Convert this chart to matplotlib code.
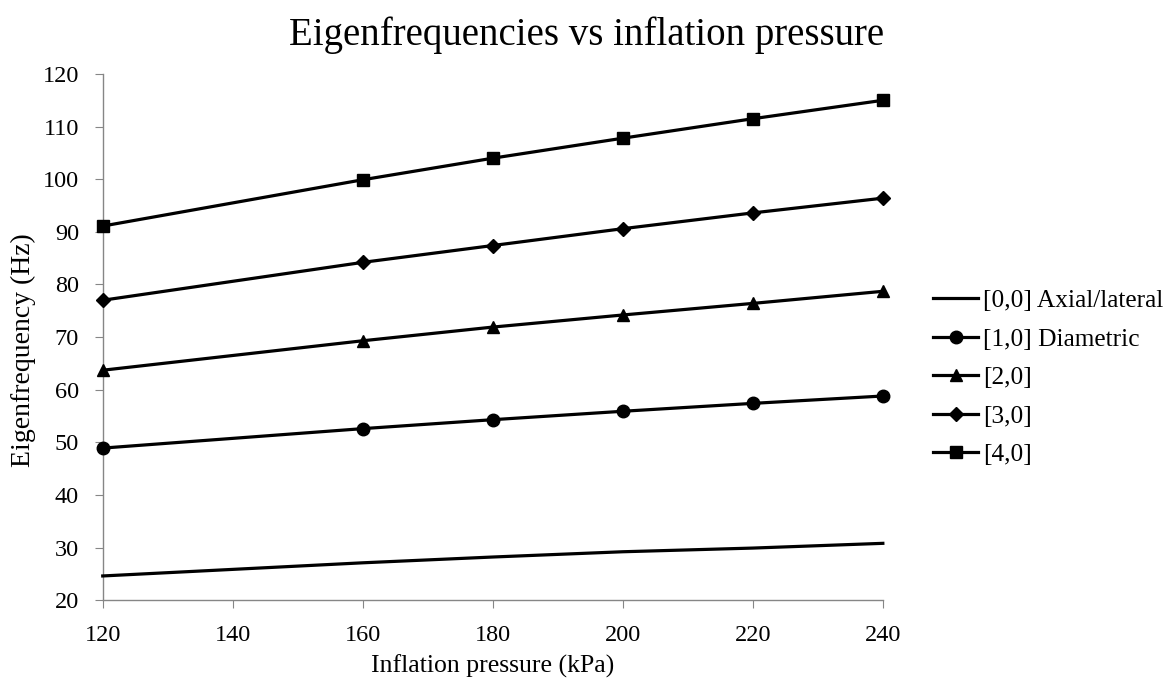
import matplotlib
matplotlib.use("Agg")
import matplotlib.pyplot as plt

plt.rcParams['font.family'] = ['Liberation Serif', 'DejaVu Serif']

pressure = [120, 160, 180, 200, 220, 240]
mode_00 = [24.6, 27.1, 28.2, 29.2, 29.9, 30.8]
mode_10 = [48.9, 52.6, 54.3, 55.9, 57.4, 58.8]
mode_20 = [63.7, 69.3, 71.9, 74.2, 76.4, 78.7]
mode_30 = [77.0, 84.2, 87.4, 90.6, 93.6, 96.4]
mode_40 = [91.1, 99.9, 104.0, 107.8, 111.5, 115.0]

series = [
    ("[0,0] Axial/lateral", mode_00, None, 0),
    ("[1,0] Diametric", mode_10, "o", 9),
    ("[2,0]", mode_20, "^", 9),
    ("[3,0]", mode_30, "D", 7),
    ("[4,0]", mode_40, "s", 9),
]

fig = plt.figure(figsize=(11.74, 6.82), dpi=100)
ax = fig.add_axes([0.0875, 0.12, 0.6645, 0.7715])

for label, vals, marker, ms in series:
    ax.plot(pressure, vals, color="black", lw=2.3, marker=marker, ms=ms,
            label=label, clip_on=False, zorder=3)

ax.set_xlim(120, 240)
ax.set_ylim(20, 120)
ax.set_xticks(range(120, 241, 20))
ax.set_yticks(range(20, 121, 10))
for side in ("top", "right"):
    ax.spines[side].set_visible(False)
for side in ("left", "bottom"):
    ax.spines[side].set_color("#868686")
    ax.spines[side].set_linewidth(1.0)
ax.tick_params(direction="out", length=6, color="#868686", labelsize=17.5)
ax.tick_params(axis="x", pad=12)
ax.tick_params(axis="y", pad=11)

ax.set_xlabel("Inflation pressure (kPa)", fontsize=18.5, labelpad=6)
ax.set_ylabel("Eigenfrequency (Hz)", fontsize=20)
ax.yaxis.set_label_coords(-0.085, 0.475)
fig.text(0.5, 0.948, "Eigenfrequencies vs inflation pressure", fontsize=28, ha="center", va="center")

ax.legend(loc="center left", bbox_to_anchor=(0.795, 0.446), bbox_transform=fig.transFigure,
          frameon=False, fontsize=18.3, handlelength=1.75, handletextpad=0.2,
          labelspacing=0.62, borderpad=0, borderaxespad=0)

fig.savefig("out.png", dpi=100)
